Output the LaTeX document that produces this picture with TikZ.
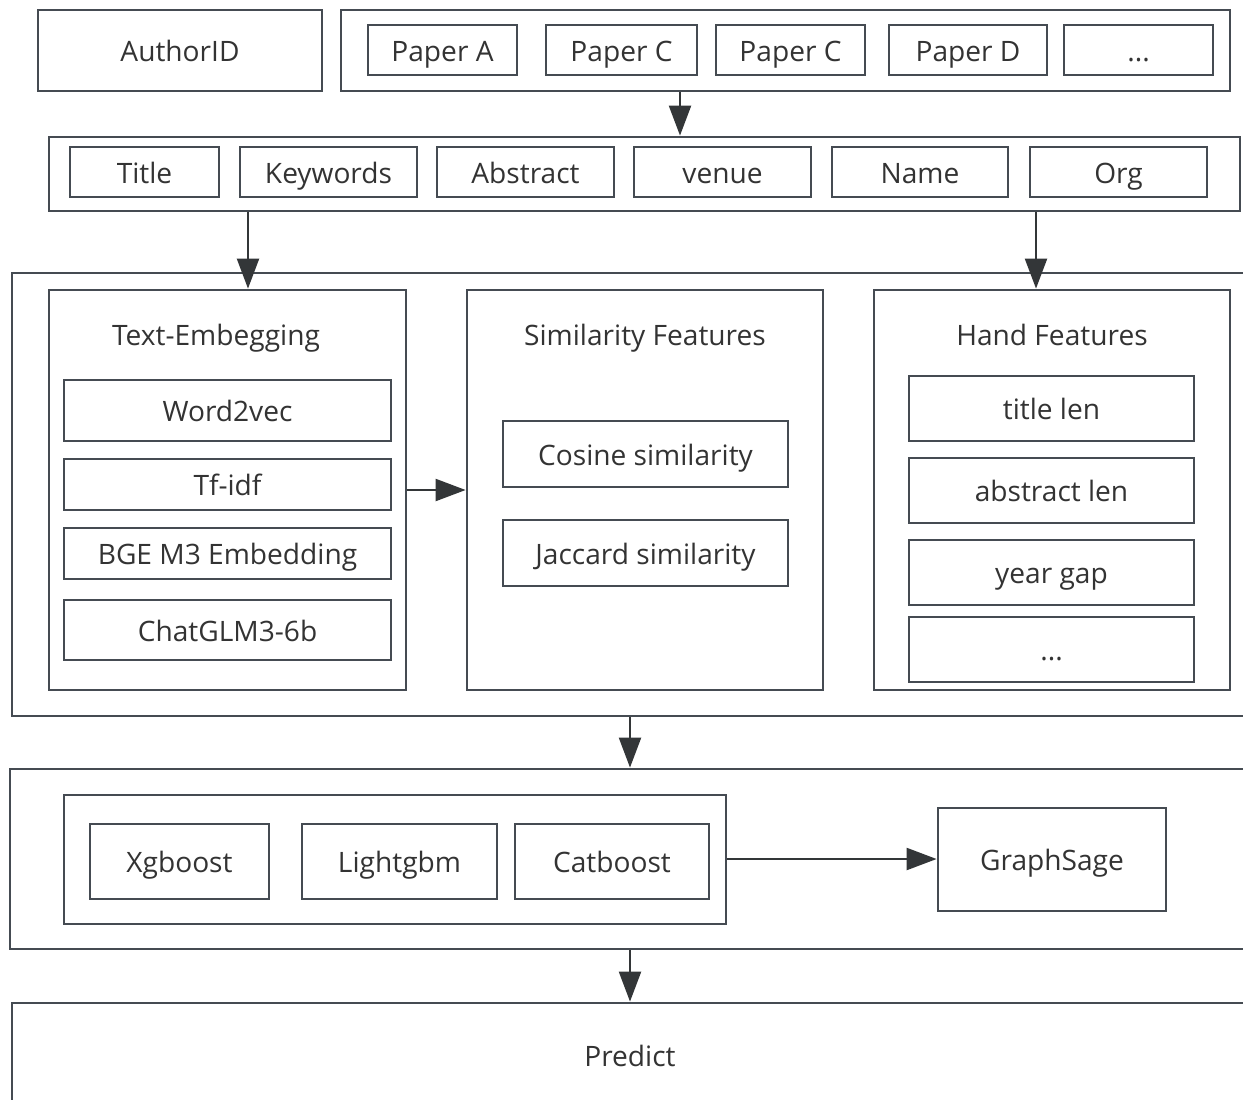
\documentclass[tikz,border=0pt]{standalone}
\usepackage{fontspec}
\setmainfont{Open Sans}
\usepackage{tikz}
\usetikzlibrary{arrows.meta,positioning}
\definecolor{PipeLine}{HTML}{454B52}
\definecolor{PipeText}{HTML}{333333}
\definecolor{PipeArrow}{HTML}{333638}
\newcommand{\pipefont}{\fontsize{16}{19}\selectfont}
\tikzset{
  cardbox/.style={draw=PipeLine,line width=1.6pt,inner sep=0pt,text=PipeText,font=\pipefont,
    fill=white,text height=16pt,text depth=3pt},
  sized/.style 2 args={minimum width=#1*0.02cm,minimum height=#2*0.02cm},
  paneltitle/.style={text=PipeText,font=\pipefont,inner sep=1pt,text height=12pt,text depth=3.5pt},
  flowarrow/.style={-{Triangle[length=6mm,width=4.4mm]},line width=1.3pt,draw=PipeArrow}
}

\begin{document}
\begin{tikzpicture}[x=0.02cm,y=-0.02cm]
\useasboundingbox (0,0) rectangle (1243,1099);
\clip (0,0) rectangle (1243,1099);
% author and papers
\node[cardbox,sized={284}{81}] (author) at (180,50.5) {AuthorID};
\node[cardbox,sized={889}{81}] (papers) at (785.5,50.5) {};
\node[cardbox,sized={149}{50}] (pA) at (442.5,50) {Paper A};
\node[cardbox,sized={151}{50}] (pC) at (621.5,50) {Paper C};
\node[cardbox,sized={149}{50}] (pCC) at (790.5,50) {Paper C};
\node[cardbox,sized={158}{50}] (pD) at (968,50) {Paper D};
\node[cardbox,sized={149}{50}] (pMore) at (1138.5,50) {...};
% paper fields
\node[cardbox,sized={1191}{74}] (fields) at (644.5,174) {};
\foreach \fname/\fx/\fw/\flab in {fTitle/144.5/149/Title,fKey/328.5/177/Keywords,fAbs/525.5/177/Abstract,
  fVenue/722.5/177/venue,fName/920/176/Name,fOrg/1118.5/177/Org}
  \node[cardbox,sized={\fw}{50}] (\fname) at (\fx,172) {\flab};
% feature stage
\node[cardbox,sized={1236}{443}] (featframe) at (630,494.5) {};
\node[cardbox,sized={357}{400}] (textemb) at (227.5,490) {};
\node[paneltitle] at (216,338.5) {Text-Embegging};
\node[cardbox,sized={327}{61}] (w2v) at (227.5,410.5) {Word2vec};
\node[cardbox,sized={327}{51}] (tfidf) at (227.5,484.5) {Tf-idf};
\node[cardbox,sized={327}{51}] (bge) at (227.5,553.5) {BGE M3 Embedding};
\node[cardbox,sized={327}{60}] (glm) at (227.5,630) {ChatGLM3-6b};
\node[cardbox,sized={356}{400}] (simfeat) at (645,490) {};
\node[paneltitle] at (645,338.5) {Similarity Features};
\node[cardbox,sized={285}{66}] (cosine) at (645.5,454) {Cosine similarity};
\node[cardbox,sized={285}{66}] (jaccard) at (645.5,553) {Jaccard similarity};
\node[cardbox,sized={356}{400}] (handfeat) at (1052,490) {};
\node[paneltitle] at (1052,338.5) {Hand Features};
\node[cardbox,sized={285}{65}] (tlen) at (1051.5,408.5) {title len};
\node[cardbox,sized={285}{65}] (alen) at (1051.5,490.5) {abstract len};
\node[cardbox,sized={285}{65}] (ygap) at (1051.5,572.5) {year gap};
\node[cardbox,sized={285}{65}] (hmore) at (1051.5,649.5) {...};
% model stage
\node[cardbox,sized={1238}{180}] (modelframe) at (629,859) {};
\node[cardbox,sized={662}{129}] (ensemble) at (395,859.5) {};
\node[cardbox,sized={179}{75}] (xgb) at (179.5,861.5) {Xgboost};
\node[cardbox,sized={195}{75}] (lgb) at (399.5,861.5) {Lightgbm};
\node[cardbox,sized={194}{75}] (cat) at (612,861.5) {Catboost};
\node[cardbox,sized={228}{103}] (gsage) at (1052,859.5) {GraphSage};
\node[cardbox,sized={1236}{104}] (predict) at (630,1055) {Predict};
% connectors
\coordinate (k1) at (680,0);
\coordinate (k2) at (248,0);
\coordinate (k3) at (1036,0);
\coordinate (k4) at (0,490);
\coordinate (k5) at (630,0);
\coordinate (k6) at (0,859);
\draw[flowarrow] (papers.south -| k1) -- (fields.north -| k1);
\draw[flowarrow] (fields.south -| k2) -- (textemb.north -| k2);
\draw[flowarrow] (fields.south -| k3) -- (handfeat.north -| k3);
\draw[flowarrow] (textemb.east |- k4) -- (simfeat.west |- k4);
\draw[flowarrow] (featframe.south -| k5) -- (modelframe.north -| k5);
\draw[flowarrow] (ensemble.east |- k6) -- (gsage.west |- k6);
\draw[flowarrow] (modelframe.south -| k5) -- (predict.north -| k5);
\end{tikzpicture}
\end{document}
